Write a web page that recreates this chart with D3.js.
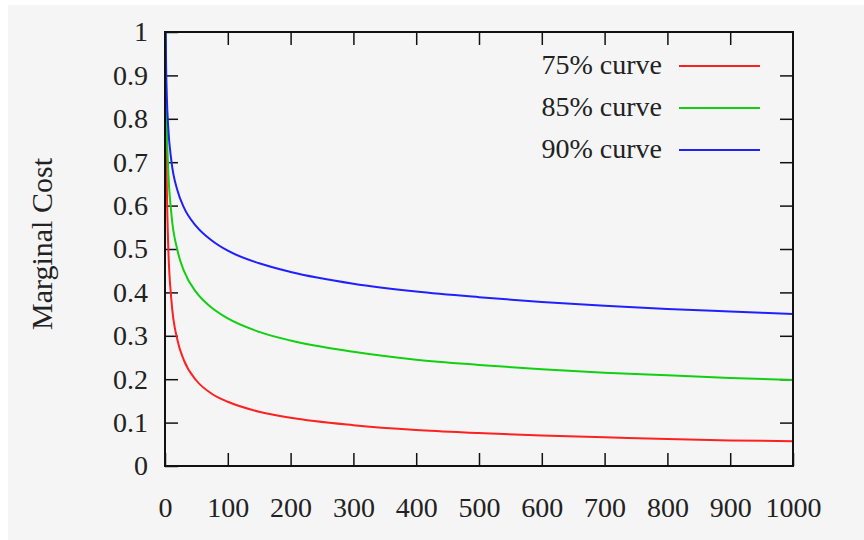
<!DOCTYPE html>
<html>
<head>
<meta charset="utf-8">
<script src="https://cdn.jsdelivr.net/npm/d3@7"></script>
<style>
  html, body { margin: 0; padding: 0; background: #ffffff; }
  svg { display: block; }
</style>
</head>
<body>
<svg id="chart"></svg>
<script>
// values
let units = [1, 2, 3, 5, 10, 20, 30, 50, 75, 100, 150, 200, 300, 400, 500, 600, 700, 800, 900, 1000];
let cost75 = [1, 0.75, 0.634, 0.513, 0.385, 0.289, 0.244, 0.197, 0.166, 0.148, 0.125, 0.111, 0.094, 0.083, 0.076, 0.070, 0.066, 0.062, 0.059, 0.057];
let cost85 = [1, 0.85, 0.773, 0.686, 0.583, 0.496, 0.450, 0.400, 0.364, 0.340, 0.309, 0.289, 0.263, 0.245, 0.233, 0.223, 0.215, 0.209, 0.203, 0.198];
let cost90 = [1, 0.90, 0.846, 0.783, 0.705, 0.634, 0.596, 0.552, 0.519, 0.496, 0.467, 0.447, 0.420, 0.402, 0.389, 0.378, 0.369, 0.362, 0.356, 0.350];
let seriesNames = ["75% curve", "85% curve", "90% curve"];
let seriesColors = ["#ff2020", "#10d010", "#2020ff"];
let xTicks = [0, 100, 200, 300, 400, 500, 600, 700, 800, 900, 1000];
let yTicks = [0, 0.1, 0.2, 0.3, 0.4, 0.5, 0.6, 0.7, 0.8, 0.9, 1];

let width = 864, height = 540;
let plotLeft = 165, plotRight = 793, plotTop = 32, plotBottom = 466;
let fontSize = 28;
let serif = "'Liberation Serif', 'Times New Roman', 'DejaVu Serif', serif";

let svg = d3.select("#chart")
  .attr("width", width)
  .attr("height", height)
  .style("font-family", serif);

// light grey page area with a thin white margin
svg.append("rect")
  .attr("x", 8).attr("y", 5)
  .attr("width", width - 8).attr("height", height - 5)
  .attr("fill", "#f5f5f5");

let xScale = d3.scaleLinear().domain([0, 1000]).range([plotLeft, plotRight]);
let yScale = d3.scaleLinear().domain([0, 1]).range([plotBottom, plotTop]);

let fmt = d => String(+d.toFixed(1));

let styleAxis = g => {
  g.attr("font-family", null);
  g.select(".domain").remove();
  g.selectAll("line").attr("stroke", "#111").attr("stroke-width", 1.5);
  g.selectAll("text")
    .style("font-family", serif)
    .style("font-size", fontSize + "px")
    .attr("fill", "#222");
};

svg.append("g")
  .attr("transform", `translate(0, ${plotBottom})`)
  .call(d3.axisBottom(xScale).tickValues(xTicks).tickFormat(d => d).tickSize(-13).tickPadding(31))
  .call(styleAxis);

svg.append("g")
  .attr("transform", `translate(0, ${plotTop})`)
  .call(d3.axisTop(xScale).tickValues(xTicks.slice(1, -1)).tickFormat("").tickSize(-13))
  .call(styleAxis);

svg.append("g")
  .attr("transform", `translate(${plotLeft}, 0)`)
  .call(d3.axisLeft(yScale).tickValues(yTicks).tickFormat(fmt).tickSize(-13).tickPadding(17))
  .call(styleAxis);

svg.append("g")
  .attr("transform", `translate(${plotRight}, 0)`)
  .call(d3.axisRight(yScale).tickValues(yTicks.slice(1, -1)).tickFormat("").tickSize(-13))
  .call(styleAxis);

// y label
svg.append("text")
  .attr("transform", `translate(52, 244) rotate(-90)`)
  .attr("text-anchor", "middle")
  .style("font-family", serif)
  .style("font-size", "30px")
  .attr("fill", "#222")
  .text("Marginal Cost");

// curves
let line = d3.line()
  .x(d => xScale(d[0]))
  .y(d => yScale(d[1]))
  .curve(d3.curveMonotoneX);

let allSeries = [cost75, cost85, cost90];
allSeries.forEach((vals, i) => {
  svg.append("path")
    .datum(units.map((u, j) => [u, vals[j]]))
    .attr("fill", "none")
    .attr("stroke", seriesColors[i])
    .attr("stroke-width", 2)
    .attr("d", line);
});

// frame
svg.append("rect")
  .attr("x", plotLeft).attr("y", plotTop)
  .attr("width", plotRight - plotLeft).attr("height", plotBottom - plotTop)
  .attr("fill", "none")
  .attr("stroke", "#111")
  .attr("stroke-width", 2);

// legend
let legend = svg.append("g").selectAll("g")
  .data(seriesNames)
  .enter()
  .append("g")
  .attr("transform", (d, i) => `translate(0, ${66 + i * 42})`);

legend.append("text")
  .attr("x", 662)
  .attr("y", 8)
  .attr("text-anchor", "end")
  .style("font-family", serif)
  .style("font-size", fontSize + "px")
  .attr("fill", "#222")
  .text(d => d);

legend.append("line")
  .attr("x1", 679).attr("x2", 760)
  .attr("y1", 0).attr("y2", 0)
  .attr("stroke", (d, i) => seriesColors[i])
  .attr("stroke-width", 2);
</script>
</body>
</html>
